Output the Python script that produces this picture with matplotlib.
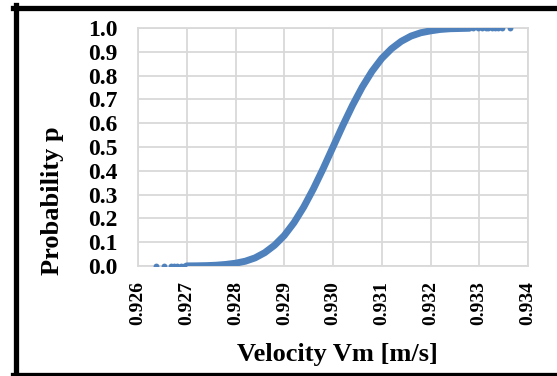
import matplotlib
matplotlib.use("Agg")
import matplotlib.pyplot as plt
from matplotlib.lines import Line2D

# cumulative probability curve
velocity = [0.9270, 0.9272, 0.9274, 0.9276, 0.9278, 0.9280, 0.9282, 0.9284,
            0.9286, 0.9288, 0.9290, 0.9292, 0.9294, 0.9296, 0.9298, 0.9300,
            0.9302, 0.9304, 0.9306, 0.9308, 0.9310, 0.9312, 0.9314, 0.9316,
            0.9318, 0.9320, 0.9322, 0.9324, 0.9326, 0.9328]
prob = [0.0003, 0.0007, 0.0015, 0.0032, 0.0065, 0.0116, 0.020, 0.034,
        0.056, 0.087, 0.128, 0.182, 0.248, 0.325, 0.410, 0.500,
        0.590, 0.675, 0.752, 0.818, 0.872, 0.913, 0.944, 0.966,
        0.980, 0.988, 0.994, 0.997, 0.998, 0.999]

# isolated points in the tails
tail_low_v = [0.92637, 0.92653, 0.92668, 0.92674, 0.92680, 0.92688, 0.92694]
tail_low_p = [0.0000, 0.0000, 0.0001, 0.0001, 0.0001, 0.0002, 0.0002]
tail_high_v = [0.93287, 0.93297, 0.93305, 0.93313, 0.93318, 0.93326,
               0.93332, 0.93338, 0.93346, 0.93364]
tail_high_p = [0.9993, 0.9995, 0.9996, 0.9997, 0.9998, 0.9998,
               0.9999, 0.9999, 0.9999, 1.0000]

x_ticks = [0.926, 0.927, 0.928, 0.929, 0.930, 0.931, 0.932, 0.933, 0.934]
y_ticks = [0.0, 0.1, 0.2, 0.3, 0.4, 0.5, 0.6, 0.7, 0.8, 0.9, 1.0]

blue = "#4F81BD"
grid = "#D9D9D9"

plt.rcParams["font.family"] = ["Liberation Serif", "DejaVu Serif"]
plt.rcParams["font.weight"] = "bold"

fig = plt.figure(figsize=(5.57, 3.76), dpi=100)
ax = fig.add_axes([138 / 557, 1 - 266 / 376, 390 / 557, 238 / 376])

ax.plot(velocity, prob, color=blue, lw=5.0, solid_capstyle="round", zorder=3)
ax.plot(tail_low_v, tail_low_p, "o", color=blue, ms=4.2, mew=0, zorder=3)
ax.plot(tail_high_v, tail_high_p, "o", color=blue, ms=4.2, mew=0, zorder=3)

ax.set_xlim(0.926, 0.934)
ax.set_ylim(0.0, 1.0)
ax.set_xticks(x_ticks)
ax.set_xticklabels(["%.3f" % v for v in x_ticks], rotation=90, fontsize=14,
                   fontweight="bold")
ax.set_yticks(y_ticks)
ax.set_yticklabels(["%.1f" % v for v in y_ticks], fontsize=17, fontweight="bold")
ax.tick_params(axis="both", length=0)
ax.tick_params(axis="x", pad=11)
ax.tick_params(axis="y", pad=15)
ax.grid(True, color=grid, lw=1.3)
ax.set_axisbelow(True)
for s in ax.spines.values():
    s.set_color(grid)
    s.set_linewidth(1.3)

ax.set_xlabel("Velocity Vm [m/s]", fontsize=19, fontweight="bold")
ax.set_ylabel("Probability p", fontsize=19, fontweight="bold")
ax.xaxis.label.set_va("center")
ax.yaxis.label.set_va("center")
ax.xaxis.set_label_coords((337 - 138) / 390, (266 - 355) / 238)
ax.yaxis.set_label_coords((53 - 138) / 390, (266 - 201) / 238)

# outer black frame (left, top, bottom visible)
W, H = 557.0, 376.0
fig.add_artist(Line2D([15.5 / W, 15.5 / W], [1 - 5 / H, 0], color="black",
                      lw=3.8, transform=fig.transFigure))
fig.add_artist(Line2D([13 / W, 1], [1 - 7.5 / H, 1 - 7.5 / H], color="black",
                      lw=3.8, transform=fig.transFigure))
fig.add_artist(Line2D([13 / W, 1], [1 - 374.5 / H, 1 - 374.5 / H],
                      color="black", lw=3.8, transform=fig.transFigure))

fig.savefig("out.png", dpi=100)
